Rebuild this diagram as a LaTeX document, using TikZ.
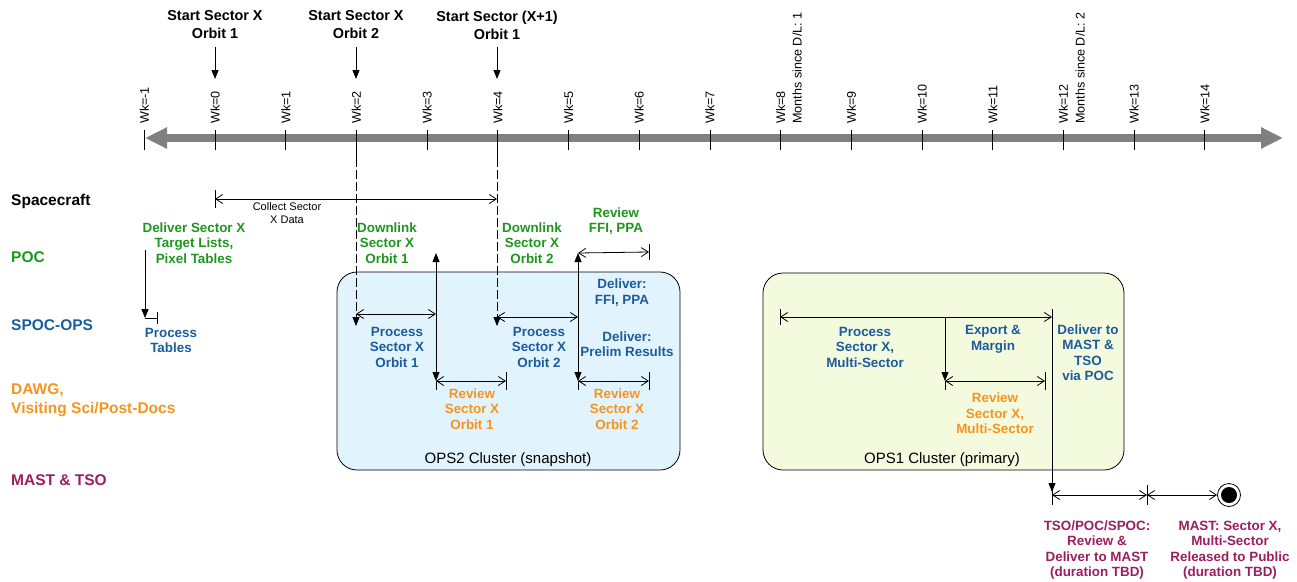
\documentclass[tikz,border=0pt]{standalone}
\usepackage{fontspec}
\setmainfont{Liberation Sans}
\usetikzlibrary{arrows.meta}
\definecolor{pocgreen}{RGB}{30,150,30}
\definecolor{spocblue}{RGB}{28,92,156}
\definecolor{dawgorange}{RGB}{247,148,30}
\definecolor{mastmag}{RGB}{155,30,95}
\definecolor{ops2fill}{RGB}{225,243,253}
\definecolor{ops1fill}{RGB}{243,250,222}
\definecolor{axisgray}{RGB}{128,128,128}
\tikzset{
  bb/.tip={Straight Barb[length=7pt,width=9pt,line width=0.8pt]},
  tt/.tip={Triangle[length=9pt,width=7pt]},
  ln/.style={line width=0.8pt, draw=black},
  lbl/.style={font=\fontsize{13.4}{15.5}\selectfont\bfseries, align=center, inner sep=0pt},
  toplbl/.style={font=\fontsize{14.4}{18}\selectfont\bfseries, align=center, inner sep=0pt},
  grp/.style={font=\fontsize{15.5}{18.5}\selectfont\bfseries, align=left, anchor=west, inner sep=0pt},
  wk/.style={font=\fontsize{12.6}{14}\selectfont, rotate=90, anchor=west, inner sep=0pt},
  cluster/.style={draw=black, line width=0.8pt, rounded corners=20pt},
  cllbl/.style={font=\fontsize{15}{18}\selectfont, inner sep=0pt},
}
\newcommand{\vbarat}[3]{\draw[ln] ([yshift=#2pt]#1) -- ([yshift=-#3pt]#1);}
\begin{document}
\begin{tikzpicture}[x=1pt,y=-1pt]
\useasboundingbox (0,0) rectangle (1297,581);

% clusters
\draw[cluster, fill=ops2fill] (337,272) rectangle (680,470);
\draw[cluster, fill=ops1fill] (763,273) rectangle (1124,470);
\node[cllbl] (ops2) at (508,460) {OPS2 Cluster (snapshot)};
\node[cllbl] (ops1) at (942,460) {OPS1 Cluster (primary)};

% axis
\coordinate (axL) at (145,138);
\coordinate (axR) at (1283,138);
\draw[line width=8pt, axisgray, {Triangle[length=22pt,width=20pt]}-{Triangle[length=22pt,width=20pt]}] (axL) -- (axR);

% ticks and labels
\foreach \k [count=\i] in {-1,0,...,14} {
  \coordinate (tk\i) at ({215+70.7*\k},138);
  \draw[ln] ([yshift=8pt]tk\i) -- ([yshift=-12pt]tk\i);
  \node[wk] (wk\i) at ({215+70.7*\k},124) {Wk=\k};
}
\node[wk] (mo1) at (797,124) {Months since D/L: 1};
\node[wk] (mo2) at (1080,124) {Months since D/L: 2};

% left group labels
\node[grp] (lsc) at (11,201) {Spacecraft};
\node[grp, text=pocgreen] (lpoc) at (11,257) {POC};
\node[grp, text=spocblue] (lspoc) at (11,325) {SPOC-OPS};
\node[grp, text=dawgorange] (ldawg) at (11,400) {DAWG,\\Visiting Sci/Post-Docs};
\node[grp, text=mastmag] (lmast) at (11,480) {MAST \& TSO};

% top labels and arrows
\node[toplbl] (s1) at (215,25) {Start Sector X\\Orbit 1};
\node[toplbl] (s2) at (356,25) {Start Sector X\\Orbit 2};
\node[toplbl] (s3) at (497,25) {Start Sector (X+1)\\Orbit 1};
\coordinate (s1a) at (215,47); \coordinate (s1b) at (215,79);
\coordinate (s2a) at (356,47); \coordinate (s2b) at (356,79);
\coordinate (s3a) at (497,47); \coordinate (s3b) at (497,79);
\draw[ln, -tt] (s1a) -- (s1b);
\draw[ln, -tt] (s2a) -- (s2b);
\draw[ln, -tt] (s3a) -- (s3b);

% dashed drops from Wk=2 and Wk=4
\coordinate (d1a) at (356,150); \coordinate (d1b) at (356,158); \coordinate (d1c) at (356,326);
\coordinate (d2a) at (497,150); \coordinate (d2b) at (497,158); \coordinate (d2c) at (497,326);
\draw[ln] (d1a) -- (d1b);
\draw[ln] (d2a) -- (d2b);
\draw[ln, dash pattern=on 9pt off 3pt, -tt] (d1b) -- (d1c);
\draw[ln, dash pattern=on 9pt off 3pt, -tt] (d2b) -- (d2c);

% collect
\coordinate (cl) at (215,199); \coordinate (cr) at (497,199);
\draw[ln, bb-bb] (cl) -- (cr);
\vbarat{cl}{9}{9}
\node[font=\fontsize{11}{13}\selectfont, align=center, inner sep=0pt] (collect) at (287,213) {Collect Sector\\X Data};

% deliver target lists / process tables
\coordinate (ta) at (145,250); \coordinate (tb) at (145,318); \coordinate (tc) at (157,318);
\draw[ln, -tt] (ta) -- (tb);
\draw[ln] (tb) -- (tc);
\vbarat{tc}{6}{6}
\node[lbl, text=pocgreen] (dsx) at (194,243) {Deliver Sector X\\Target Lists,\\Pixel Tables};
\node[lbl, text=spocblue] (ptab) at (171,340.5) {Process\\Tables};

% orbit 1
\coordinate (p1l) at (356,314); \coordinate (p1r) at (436,314);
\draw[ln, bb-bb] (p1l) -- (p1r);
\coordinate (v1t) at (436,253); \coordinate (v1b) at (436,381); \coordinate (v1e) at (436,390);
\draw[ln, tt-tt] (v1b) -- (v1t);
\draw[ln] (v1b) -- (v1e);
\coordinate (r1r) at (506,381);
\draw[ln, bb-bb] (v1b) -- (r1r);
\vbarat{r1r}{9}{9}
\node[lbl, text=pocgreen] (dl1) at (387,243) {Downlink\\Sector X\\Orbit 1};
\node[lbl, text=spocblue] (ps1) at (397,347) {Process\\Sector X\\Orbit 1};
\node[lbl, text=dawgorange] (rv1) at (472,409) {Review\\Sector X\\Orbit 1};

% orbit 2
\coordinate (p2l) at (497,317); \coordinate (p2r) at (578,317);
\draw[ln, bb-bb] (p2l) -- (p2r);
\coordinate (v2t) at (578,253); \coordinate (v2b) at (578,381); \coordinate (v2e) at (578,390);
\draw[ln, tt-tt] (v2b) -- (v2t);
\draw[ln] (v2b) -- (v2e);
\coordinate (ffr) at (649,252);
\draw[ln, bb-bb] (v2t) -- (ffr);
\vbarat{ffr}{8}{8}
\coordinate (r2r) at (649,381);
\draw[ln, bb-bb] (v2b) -- (r2r);
\vbarat{r2r}{9}{9}
\node[lbl, text=pocgreen] (dl2) at (532,243) {Downlink\\Sector X\\Orbit 2};
\node[lbl, text=spocblue] (ps2) at (539,347) {Process\\Sector X\\Orbit 2};
\node[lbl, text=pocgreen] (rffi) at (616,221) {Review\\FFI, PPA};
\node[lbl, text=spocblue] (dffi) at (622,292.5) {Deliver:\\FFI, PPA};
\node[lbl, text=spocblue] (dpr) at (627,344) {Deliver:\\Prelim Results};
\node[lbl, text=dawgorange] (rv2) at (617,409) {Review\\Sector X\\Orbit 2};

% multi-sector
\coordinate (pml) at (780,317); \coordinate (pmr) at (1052,317);
\draw[ln, bb-bb] (pml) -- (pmr);
\vbarat{pml}{8}{8}
\coordinate (v3t) at (945,317); \coordinate (v3b) at (945,381); \coordinate (v3e) at (945,390);
\draw[ln, -tt] (v3t) -- (v3b);
\draw[ln] (v3b) -- (v3e);
\coordinate (rmr) at (1045,381);
\draw[ln, bb-bb] (v3b) -- (rmr);
\vbarat{rmr}{9}{9}
\coordinate (v4t) at (1052,309); \coordinate (v4b) at (1052,492);
\draw[ln, -tt] (v4t) -- (v4b);
\node[lbl, text=spocblue] (pms) at (865,347) {Process\\Sector X,\\Multi-Sector};
\node[lbl, text=spocblue] (exm) at (993,339.5) {Export \&\\Margin};
\node[lbl, text=spocblue] (dmt) at (1088,352.5) {Deliver to\\MAST \&\\TSO\\via POC};
\node[lbl, text=dawgorange] (rms) at (995,413.5) {Review\\Sector X,\\Multi-Sector};

% MAST release
\coordinate (b1l) at (1052,495); \coordinate (b1r) at (1147,495);
\node[circle, draw=black, line width=0.8pt, minimum size=23pt, inner sep=0pt] (endst) at (1229,495) {};
\fill (endst.center) circle (8pt);
\draw[ln, bb-bb] (b1l) -- (b1r);
\draw[ln, bb-bb] (b1r) -- (endst.west);
\vbarat{b1l}{10}{10}
\vbarat{b1r}{10}{10}
\node[lbl, text=mastmag] (tso) at (1097,550) {TSO/POC/SPOC:\\Review \&\\Deliver to MAST\\(duration TBD)};
\node[lbl, text=mastmag] (mrel) at (1230,550) {MAST: Sector X,\\Multi-Sector\\Released to Public\\(duration TBD)};
\end{tikzpicture}
\end{document}
